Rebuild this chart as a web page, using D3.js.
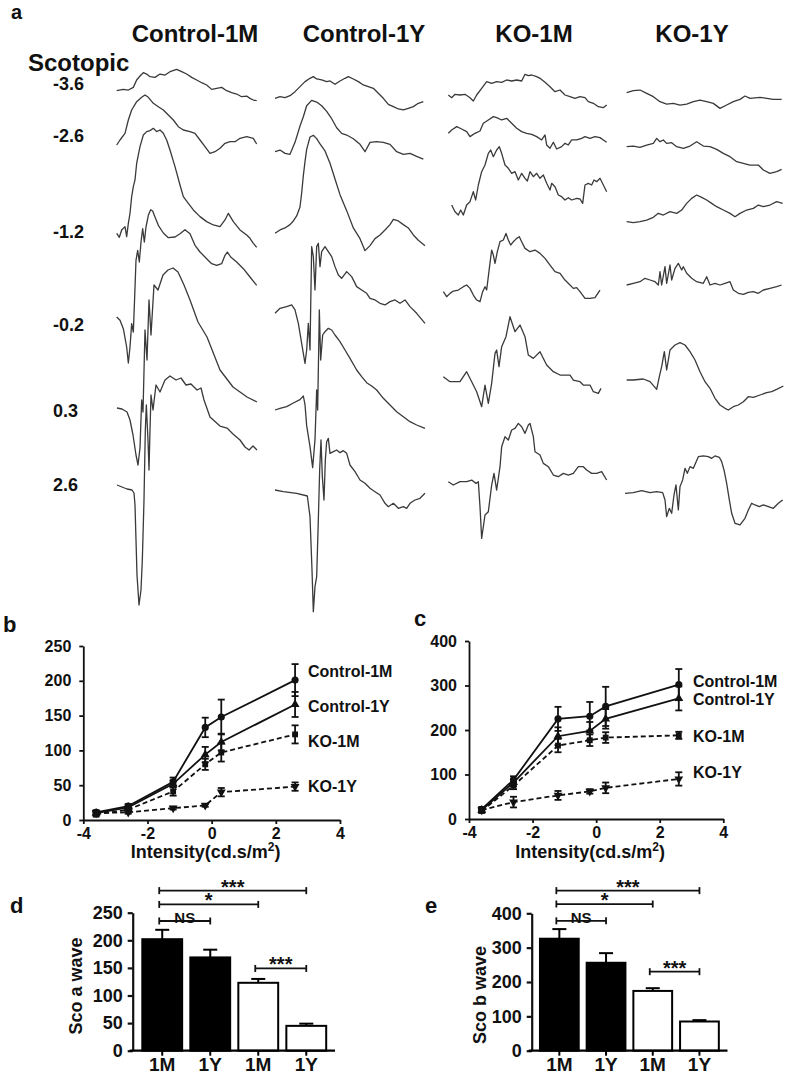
<!DOCTYPE html>
<html><head><meta charset="utf-8">
<script src="https://cdn.jsdelivr.net/npm/d3@7"></script>
<style>
body{margin:0;background:#fff}
svg text{font-family:'Liberation Sans',Arial,sans-serif;font-weight:bold;fill:#111}
</style></head>
<body><svg id="fig" width="787" height="1075"></svg>
<script>
// ---------------- DATA ----------------
const groups = ["Control-1M", "Control-1Y", "KO-1M", "KO-1Y"];
const intensities = [-3.6, -2.6, -1.2, -0.2, 0.3, 2.6];
const intensityLabels = ["-3.6", "-2.6", "-1.2", "-0.2", "0.3", "2.6"];

// ERG traces: [time index, amplitude] pairs, one array per flash intensity
const ctrl1M_m36 = [[20,0],[40,4],[55,2],[70,10],[80,32],[90,44],[100,54],[110,50],[120,42],[135,40],[150,50],[165,47],[180,57],[200,64],[215,57],[230,50],[245,40],[260,32],[275,24],[290,17],[305,4],[320,7],[335,10],[350,0],[365,-6],[380,-10],[395,-18],[410,-16],[420,-23],[430,-28],[440,-30]];
const ctrl1M_m26 = [[20,0],[30,15],[45,35],[55,75],[65,105],[80,130],[95,143],[105,150],[115,143],[130,125],[145,115],[160,105],[175,90],[190,75],[205,55],[220,45],[240,40],[255,35],[270,15],[285,-5],[300,-25],[315,-20],[330,-10],[345,5],[360,10],[375,10],[390,20],[410,25],[430,20],[440,3]];
const ctrl1M_m12 = [[20,0],[28,-12],[35,10],[45,20],[50,-10],[55,30],[60,60],[65,110],[70,140],[75,160],[80,210],[90,260],[100,295],[110,305],[120,308],[130,315],[140,305],[150,310],[160,300],[170,280],[180,250],[195,200],[210,145],[220,110],[235,90],[250,70],[270,50],[290,35],[310,25],[330,20],[345,40],[355,60],[370,35],[390,10],[410,-5],[420,-15],[430,-30],[440,-42]];
const ctrl1M_m02 = [[20,0],[30,-10],[40,-35],[50,-90],[55,-138],[60,-90],[65,-20],[70,-45],[74,60],[78,170],[83,200],[88,165],[93,225],[98,265],[103,225],[108,270],[115,305],[122,322],[128,318],[135,300],[145,275],[160,252],[175,238],[195,240],[210,250],[225,262],[240,250],[255,215],[270,195],[290,175],[305,160],[320,155],[335,160],[345,185],[352,195],[362,180],[380,165],[400,145],[420,120],[440,95]];
const ctrl1M_p03 = [[21,0],[36,-3],[51,-12],[60,-36],[69,-81],[78,-141],[84,-171],[90,-120],[95,24],[99,-12],[105,234],[111,144],[117,324],[123,219],[132,369],[144,354],[159,399],[174,414],[189,420],[204,408],[222,369],[240,324],[264,258],[291,213],[330,114],[369,63],[411,33],[441,18]];
const ctrl1M_p26 = [[21,0],[36,-6],[51,-12],[66,-15],[72,-24],[75,-60],[78,-165],[81,-270],[87,-360],[93,-315],[97,-225],[102,-45],[106,165],[109,240],[114,135],[117,45],[120,165],[123,270],[129,225],[138,300],[150,279],[165,315],[180,327],[198,315],[213,321],[228,300],[243,303],[261,285],[273,291],[282,255],[300,204],[330,177],[351,171],[369,153],[390,135],[405,114],[417,105],[429,117],[441,105]];

const ctrl1Y_m36 = [[15,0],[30,5],[45,2],[60,8],[75,20],[90,35],[105,50],[120,60],[130,65],[140,58],[155,55],[170,50],[180,52],[195,42],[210,52],[225,60],[235,65],[250,58],[265,50],[280,40],[295,35],[310,30],[325,15],[340,0],[355,-18],[370,-25],[385,-32],[400,-35],[415,-30],[430,-25],[445,-15],[460,-10]];
const ctrl1Y_m26 = [[15,0],[30,5],[45,-5],[60,-8],[75,28],[90,77],[100,105],[110,138],[125,154],[140,149],[155,138],[170,121],[185,99],[200,72],[215,55],[230,50],[250,39],[270,22],[285,0],[300,28],[320,30],[340,28],[360,22],[380,0],[400,-8],[420,-5],[440,-14],[460,-22]];
const ctrl1Y_m12 = [[15,0],[30,10],[45,16],[60,26],[70,37],[80,52],[90,79],[95,121],[100,173],[105,215],[110,252],[120,289],[130,294],[140,284],[150,268],[165,247],[180,210],[195,163],[210,116],[230,68],[250,16],[270,-16],[285,-52],[300,-37],[315,-16],[330,-5],[345,10],[360,26],[370,42],[385,37],[400,26],[415,16],[430,-5],[445,-21],[465,-37]];
const ctrl1Y_m02 = [[15,0],[30,15],[50,20],[65,25],[75,10],[85,-30],[95,-90],[105,-150],[110,-110],[115,-30],[120,-110],[125,200],[130,170],[135,70],[140,200],[145,210],[150,140],[155,185],[165,200],[175,185],[185,170],[195,140],[205,115],[215,105],[230,125],[245,110],[260,80],[275,70],[290,60],[300,45],[315,40],[330,30],[345,25],[360,35],[375,40],[390,30],[405,40],[420,20],[440,0],[465,-30]];
const ctrl1Y_p03 = [[15,0],[30,5],[50,10],[70,21],[90,31],[100,42],[105,16],[110,-47],[120,-110],[128,-173],[135,-89],[140,60],[143,0],[148,300],[152,150],[158,225],[165,235],[175,245],[185,240],[195,225],[210,205],[225,180],[240,155],[260,120],[275,100],[290,82],[305,72],[320,60],[340,35],[360,15],[380,-5],[400,-20],[420,-35],[440,-45],[465,-55]];
const ctrl1Y_p26 = [[15,0],[40,-5],[80,-10],[112,-18],[120,-80],[126,-240],[130,-365],[135,-290],[140,-260],[145,-90],[149,60],[153,150],[157,40],[162,-30],[166,90],[170,145],[175,155],[180,110],[190,115],[200,120],[210,112],[220,118],[230,110],[240,75],[255,55],[270,30],[285,20],[300,5],[315,-5],[330,-15],[345,-40],[355,-50],[370,-40],[385,-55],[400,-50],[410,-55],[420,-40],[435,-30],[450,-25],[465,-10]];

const ko1M_m36 = [[25,0],[35,-8],[45,2],[60,0],[75,2],[90,-8],[100,-18],[110,0],[125,20],[140,40],[155,35],[170,40],[185,38],[200,45],[215,42],[230,45],[245,42],[255,62],[265,58],[275,60],[290,55],[300,50],[315,38],[330,25],[345,10],[360,15],[375,0],[390,-5],[405,-10],[420,-5],[435,-8],[445,-20],[460,-25],[475,-35],[490,-38],[500,-30]];
const ko1M_m26 = [[25,0],[35,10],[50,20],[65,13],[80,5],[90,-10],[105,0],[120,7],[130,30],[145,40],[160,50],[170,47],[185,40],[200,45],[215,30],[230,15],[245,5],[260,0],[275,-3],[290,-10],[305,-20],[315,-5],[320,-35],[330,-45],[340,-27],[350,-47],[365,-40],[375,-30],[385,-35],[395,-20],[410,-20],[425,-15],[435,-10],[450,-15],[465,-10],[480,-13],[490,-20],[500,-27]];
const ko1M_m12 = [[35,0],[45,-20],[55,-30],[62,-15],[70,-30],[80,0],[90,10],[100,40],[107,15],[115,60],[125,100],[135,120],[145,155],[152,165],[160,145],[170,165],[178,175],[185,155],[195,120],[205,110],[215,95],[225,100],[235,75],[245,95],[255,80],[262,72],[270,100],[280,85],[290,95],[300,80],[310,90],[320,65],[330,45],[335,65],[345,55],[355,30],[365,25],[375,15],[385,22],[395,15],[410,20],[420,18],[428,5],[435,60],[445,65],[455,60],[462,75],[470,70],[480,80],[490,60],[500,40]];
const ko1M_m02 = [[10,0],[20,-15],[30,-5],[40,2],[55,5],[70,15],[80,20],[90,10],[100,-10],[110,-25],[120,-30],[128,0],[135,15],[140,5],[148,70],[155,125],[160,110],[165,85],[172,120],[180,150],[190,155],[198,175],[205,155],[212,140],[220,150],[230,160],[238,165],[245,150],[255,130],[270,120],[285,125],[300,115],[315,100],[330,80],[345,60],[360,55],[375,35],[390,20],[400,10],[410,12],[420,0],[435,-20],[450,-20],[465,-18],[480,5]];
const ko1M_p03 = [[10,0],[30,-15],[60,-15],[80,15],[95,-15],[110,-45],[125,-90],[135,-25],[145,-80],[155,-20],[165,70],[170,80],[177,30],[185,90],[198,120],[210,180],[225,135],[240,155],[255,120],[265,65],[280,55],[300,75],[320,35],[340,15],[360,5],[390,5],[400,-10],[420,-15],[430,-25],[450,-25],[460,-45],[475,-50],[483,-35]];
const ko1M_p26 = [[25,0],[40,-10],[60,0],[80,0],[95,5],[108,-5],[115,0],[120,-75],[125,-170],[135,-100],[145,-90],[155,-10],[162,25],[170,-25],[180,45],[185,105],[195,135],[205,125],[215,155],[225,160],[235,175],[245,165],[255,145],[265,170],[270,175],[280,135],[285,90],[300,80],[310,55],[325,45],[340,20],[355,15],[370,25],[385,20],[400,25],[415,45],[430,45],[440,35],[455,25],[470,25],[485,30],[500,5]];

const ko1Y_m36 = [[20,0],[40,6],[60,8],[80,-2],[100,-12],[120,-27],[140,-34],[160,-32],[180,-37],[200,-34],[220,-27],[240,-22],[260,-27],[280,-32],[300,-47],[320,-37],[340,-27],[360,-20],[375,-10],[390,-17],[420,-14],[440,-17],[460,-20],[485,-20]];
const ko1Y_m26 = [[20,0],[40,2],[60,-2],[80,5],[100,10],[110,25],[120,15],[130,20],[140,10],[155,12],[170,0],[190,-5],[210,2],[230,15],[250,2],[270,0],[290,-8],[310,-20],[330,-30],[350,-45],[370,-50],[390,-55],[415,-55],[430,-70],[450,-80],[470,-75],[485,-68]];
const ko1Y_m12 = [[20,0],[40,-3],[60,0],[80,5],[100,13],[115,25],[130,20],[150,30],[170,25],[185,35],[200,55],[215,70],[230,80],[245,73],[260,65],[275,55],[290,45],[310,35],[330,25],[345,15],[360,25],[380,35],[400,40],[415,50],[430,45],[450,50],[470,60],[488,55]];
const ko1Y_m02 = [[20,0],[40,5],[60,10],[75,20],[90,15],[105,10],[115,0],[120,40],[125,0],[135,55],[140,5],[150,60],[155,15],[165,50],[175,65],[185,45],[190,55],[200,35],[215,20],[230,10],[250,5],[260,25],[270,0],[285,5],[300,0],[315,5],[330,10],[340,-15],[355,-25],[370,-28],[385,-22],[400,-20],[415,-25],[430,-15],[450,-10],[470,-5],[485,0]];
const ko1Y_p03 = [[20,0],[40,0],[70,3],[90,-5],[105,-22],[110,-28],[118,10],[125,40],[133,85],[140,30],[150,90],[165,105],[180,112],[195,105],[210,85],[225,60],[240,25],[255,-5],[270,-25],[285,-55],[300,-75],[315,-85],[325,-90],[340,-80],[355,-75],[370,-65],[385,-50],[400,-52],[420,-45],[440,-38],[455,-35],[470,-28],[490,-18]];
const ko1Y_p26 = [[15,0],[40,2],[65,8],[90,2],[110,5],[128,2],[135,-20],[140,-70],[148,-45],[155,-60],[162,-5],[168,25],[175,-50],[180,20],[188,40],[195,75],[202,60],[210,80],[220,75],[235,110],[250,112],[265,110],[275,105],[285,112],[298,108],[305,95],[312,70],[320,30],[328,-20],[335,-60],[345,-90],[360,-95],[375,-75],[385,-50],[395,-30],[405,-35],[418,-40],[430,-35],[445,-40],[460,-45],[475,-30],[488,-20]];

const tracesCtrl1M = [ctrl1M_m36, ctrl1M_m26, ctrl1M_m12, ctrl1M_m02, ctrl1M_p03, ctrl1M_p26];
const tracesCtrl1Y = [ctrl1Y_m36, ctrl1Y_m26, ctrl1Y_m12, ctrl1Y_m02, ctrl1Y_p03, ctrl1Y_p26];
const tracesKO1M = [ko1M_m36, ko1M_m26, ko1M_m12, ko1M_m02, ko1M_p03, ko1M_p26];
const tracesKO1Y = [ko1Y_m36, ko1Y_m26, ko1Y_m12, ko1Y_m02, ko1Y_p03, ko1Y_p26];

// panel b (a-wave) and c (b-wave) intensity-response
const aCtrl1M = [11, 20, 55, 133, 148, 201], aCtrl1MErr = [3, 3, 6, 14, 25, 23];
const aCtrl1Y = [10, 18, 52, 94, 112, 166], aCtrl1YErr = [3, 3, 5, 11, 12, 18];
const aKO1M = [8, 15, 41, 80, 97, 123], aKO1MErr = [3, 3, 6, 8, 13, 13];
const aKO1Y = [10, 11, 17, 21, 40, 48], aKO1YErr = [3, 2, 2, 2, 6, 6];
const bCtrl1M = [22, 88, 225, 231, 253, 302], bCtrl1MErr = [5, 8, 27, 32, 44, 35];
const bCtrl1Y = [20, 82, 186, 198, 225, 271], bCtrl1YErr = [5, 8, 20, 20, 22, 27];
const bKO1M = [18, 75, 165, 177, 183, 188], bKO1MErr = [4, 8, 15, 13, 12, 8];
const bKO1Y = [20, 38, 53, 62, 70, 90], bKO1YErr = [4, 12, 10, 5, 12, 15];
const intensityTicks = [-4, -2, 0, 2, 4];
const aWaveTicks = [0, 50, 100, 150, 200, 250];
const bWaveTicks = [0, 100, 200, 300, 400];

// panels d, e (bars)
const barLabels = ["1M", "1Y", "1M", "1Y"];
const scoA = [202, 169, 123, 45], scoAErr = [17, 14, 7, 4];
const scoB = [326, 256, 174, 85], scoBErr = [28, 28, 8, 4];
const scoATicks = [0, 50, 100, 150, 200, 250];
const scoBTicks = [0, 100, 200, 300, 400];
// [from bar, to bar, level, label]
const sigA = [[0, 3, 290, "***"], [0, 2, 265, "*"], [0, 1, 235, "NS"], [2, 3, 149, "***"]];
const sigB = [[0, 3, 466, "***"], [0, 2, 427, "*"], [0, 1, 378, "NS"], [2, 3, 230, "***"]];

// ---------------- DRAW ----------------
const svg = d3.select("#fig");
svg.append("rect").attr("width", 787).attr("height", 1075).attr("fill", "#fff");

function text(x, y, s, size, anchor) {
  return svg.append("text").attr("x", x).attr("y", y).attr("font-size", size)
    .attr("text-anchor", anchor || "start").text(s);
}

// panel labels
text(11, 19, "a", 20);
text(3, 632, "b", 22);
text(414, 626, "c", 22);
text(10, 913, "d", 22);
text(425, 913, "e", 22);

// ---- panel a ----
const colLeft = [110, 270, 440, 620];
const colTitleX = [195, 364, 534, 692];
const rowBase = [
  [90.7, 145, 233.3, 317, 408, 485],
  [98.3, 151.7, 233.3, 313.3, 410, 490],
  [95, 133.3, 205, 291.7, 376.7, 481.7],
  [92.7, 146.7, 221.7, 285, 380, 493.3]
];
const rowLabelY = [90, 141.7, 238.3, 330.7, 416.7, 491];
groups.forEach((gname, i) => text(colTitleX[i], 41.5, gname, 24, "middle"));
text(28, 70.5, "Scotopic", 24);
intensityLabels.forEach((l, i) => text(53, rowLabelY[i], l, 18));

const allTraces = [tracesCtrl1M, tracesCtrl1Y, tracesKO1M, tracesKO1Y];
const gA = svg.append("g");
allTraces.forEach((col, ci) => {
  const xs = d3.scaleLinear().domain([0, 450]).range([colLeft[ci], colLeft[ci] + 150]);
  col.forEach((tr, ri) => {
    const b0 = rowBase[ci][ri];
    const ys = d3.scaleLinear().domain([0, 300]).range([b0, b0 - 100]);
    const ln = d3.line().x(d => xs(d[0])).y(d => ys(d[1]));
    gA.append("path").attr("d", ln(tr)).attr("fill", "none")
      .attr("stroke", "#3a3a3a").attr("stroke-width", 1.3).attr("stroke-linejoin", "round");
  });
});

// ---- panels b, c ----
function styleAxis(g, size) {
  g.select(".domain").attr("stroke", "#111").attr("stroke-width", 1.8);
  g.selectAll(".tick line").attr("stroke", "#111").attr("stroke-width", 1.8);
  g.selectAll("text").attr("font-size", size).attr("fill", "#111")
    .attr("font-family", "'Liberation Sans',Arial,sans-serif").attr("font-weight", "bold");
}
function linePanel(cfg) {
  const x = d3.scaleLinear().domain([-4, 4]).range([cfg.x0, cfg.x1]);
  const y = d3.scaleLinear().domain([0, cfg.ymax]).range([cfg.y0, cfg.y1]);
  const gy = svg.append("g").attr("transform", `translate(${cfg.x0},0)`)
    .call(d3.axisLeft(y).tickValues(cfg.yTicks).tickFormat(d => String(d)).tickSize(4).tickSizeOuter(0).tickPadding(8));
  styleAxis(gy, 16);
  const gx = svg.append("g").attr("transform", `translate(0,${cfg.y0})`)
    .call(d3.axisBottom(x).tickValues(intensityTicks).tickFormat(d => String(d)).tickSize(4).tickSizeOuter(0).tickPadding(4));
  styleAxis(gx, 16);
  const tt = text((cfg.x0 + cfg.x1) / 2 - 6, 858, "Intensity(cd.s/m", 18, "middle");
  tt.append("tspan").attr("font-size", 12).attr("dy", -7).text("2");
  tt.append("tspan").attr("dy", 7).text(")");

  const symbols = [d3.symbolCircle, d3.symbolTriangle, d3.symbolSquare, d3.symbolTriangle];
  cfg.series.forEach((s, si) => {
    const pts = intensities.map((v, k) => [v, s.vals[k], s.err[k]]);
    svg.append("path").attr("d", d3.line().x(d => x(d[0])).y(d => y(d[1]))(pts))
      .attr("fill", "none").attr("stroke", "#111").attr("stroke-width", 1.8)
      .attr("stroke-dasharray", si >= 2 ? "5,3" : null);
    pts.forEach(p => {
      const px = x(p[0]), top = y(p[1] + p[2]), bot = y(p[1] - p[2]);
      svg.append("line").attr("x1", px).attr("x2", px).attr("y1", top).attr("y2", bot)
        .attr("stroke", "#111").attr("stroke-width", 1.8);
      [top, bot].forEach(yy => svg.append("line").attr("x1", px - 3.5).attr("x2", px + 3.5)
        .attr("y1", yy).attr("y2", yy).attr("stroke", "#111").attr("stroke-width", 1.8));
      svg.append("path").attr("d", d3.symbol().type(symbols[si]).size(si === 0 ? 40 : 34)())
        .attr("transform", `translate(${px},${y(p[1])})${si === 3 ? " rotate(180)" : ""}`)
        .attr("fill", "#111");
    });
    text(cfg.legX, cfg.legY[si], groups[si], 16);
  });
}
linePanel({
  x0: 83.3, x1: 340, y0: 820, y1: 646, ymax: 250, yTicks: aWaveTicks,
  legX: 308, legY: [676.7, 711.7, 746.7, 791.7],
  series: [
    {vals: aCtrl1M, err: aCtrl1MErr}, {vals: aCtrl1Y, err: aCtrl1YErr},
    {vals: aKO1M, err: aKO1MErr}, {vals: aKO1Y, err: aKO1YErr}
  ]
});
linePanel({
  x0: 469, x1: 723.3, y0: 819, y1: 641, ymax: 400, yTicks: bWaveTicks,
  legX: 693, legY: [686.7, 705, 741.7, 778.3],
  series: [
    {vals: bCtrl1M, err: bCtrl1MErr}, {vals: bCtrl1Y, err: bCtrl1YErr},
    {vals: bKO1M, err: bKO1MErr}, {vals: bKO1Y, err: bKO1YErr}
  ]
});

// ---- panels d, e ----
function barPanel(cfg) {
  const x = d3.scaleBand().domain(d3.range(4)).range([cfg.bx0, cfg.bx1]).paddingInner(0.17).paddingOuter(0.1);
  const y = d3.scaleLinear().domain([0, cfg.ymax]).range([cfg.y0, cfg.y1]);
  const fills = ["#000", "#000", "#fff", "#fff"];
  cfg.vals.forEach((v, i) => {
    const cx = x(i) + x.bandwidth() / 2;
    svg.append("line").attr("x1", cx).attr("x2", cx).attr("y1", y(v)).attr("y2", y(v + cfg.err[i]))
      .attr("stroke", "#000").attr("stroke-width", 2);
    svg.append("line").attr("x1", cx - 7).attr("x2", cx + 7).attr("y1", y(v + cfg.err[i])).attr("y2", y(v + cfg.err[i]))
      .attr("stroke", "#000").attr("stroke-width", 2);
    svg.append("rect").attr("x", x(i)).attr("y", y(v)).attr("width", x.bandwidth()).attr("height", y(0) - y(v))
      .attr("fill", fills[i]).attr("stroke", "#000").attr("stroke-width", 2);
    text(cx, 1071, barLabels[i], 19, "middle");
  });
  const gy = svg.append("g").attr("transform", `translate(${cfg.ax},0)`)
    .call(d3.axisLeft(y).tickValues(cfg.ticks).tickFormat(d => String(d)).tickSize(5).tickSizeOuter(0).tickPadding(5));
  styleAxis(gy, 18);
  gy.select(".domain").attr("stroke-width", 2.2);
  gy.selectAll(".tick line").attr("stroke-width", 2.2);
  svg.append("line").attr("x1", cfg.ax - 3).attr("x2", cfg.bx1 + 4).attr("y1", cfg.y0).attr("y2", cfg.y0)
    .attr("stroke", "#000").attr("stroke-width", 2.2);
  cfg.vals.forEach((v, i) => {
    const cx = x(i) + x.bandwidth() / 2;
    svg.append("line").attr("x1", cx).attr("x2", cx).attr("y1", cfg.y0).attr("y2", cfg.y0 + 5)
      .attr("stroke", "#000").attr("stroke-width", 2);
  });
  svg.append("text").attr("transform", `translate(${cfg.titleX},${cfg.titleY}) rotate(-90)`)
    .attr("text-anchor", "middle").attr("font-size", 18).text(cfg.title);
  cfg.sig.forEach(s => {
    const xa = x(s[0]) + x.bandwidth() / 2 - 3, xb = x(s[1]) + x.bandwidth() / 2;
    const yy = y(s[2]);
    svg.append("line").attr("x1", xa).attr("x2", xb).attr("y1", yy).attr("y2", yy).attr("stroke", "#111").attr("stroke-width", 1.8);
    [xa, xb].forEach(xx => svg.append("line").attr("x1", xx).attr("x2", xx).attr("y1", yy - 3.5).attr("y2", yy + 3.5)
      .attr("stroke", "#111").attr("stroke-width", 1.8));
    if (s[3] === "NS") text((xa + xb) / 2, yy + 2, "NS", 15, "middle").attr("fill", "#333");
    else text((xa + xb) / 2, yy + 3, s[3], 20, "middle").attr("fill", "#444");
  });
}
barPanel({bx0: 137.5, bx1: 331, ax: 132.7, y0: 1050.7, y1: 912.7, ymax: 250, ticks: scoATicks,
  vals: scoA, err: scoAErr, sig: sigA, title: "Sco a wave", titleX: 81.5, titleY: 986});
barPanel({bx0: 535.3, bx1: 723.5, ax: 531.7, y0: 1050.7, y1: 913.3, ymax: 400, ticks: scoBTicks,
  vals: scoB, err: scoBErr, sig: sigB, title: "Sco b wave", titleX: 486, titleY: 995});
</script></body></html>
